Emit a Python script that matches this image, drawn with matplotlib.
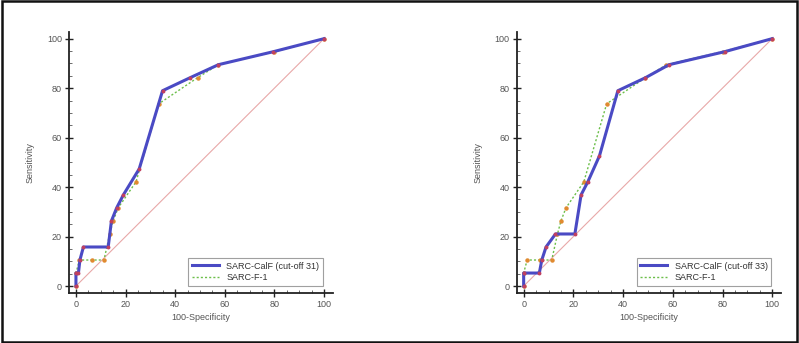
import matplotlib
matplotlib.use("Agg")
import matplotlib.pyplot as plt
from matplotlib.patches import Rectangle
from matplotlib.ticker import MultipleLocator

plt.rcParams['font.family'] = ['Liberation Sans', 'DejaVu Sans']

# SARC-CalF, cut-off 31 (left panel)
calf31_x = [0, 0, 1.0, 1.6, 3.0, 13.0, 14.3, 16.4, 19.1, 25.5, 34.9, 46.0, 57.4, 79.6, 100]
calf31_y = [0, 5.26, 5.26, 10.53, 15.79, 15.79, 26.32, 31.58, 36.84, 47.37, 78.95, 84.21, 89.47, 94.74, 100]

# SARC-CalF, cut-off 33 (right panel)
calf33_x = [0, 0, 6.3, 7.3, 9.0, 12.8, 20.6, 23.1, 25.8, 30.5, 37.9, 49.0, 58.5, 80.9, 100]
calf33_y = [0, 5.26, 5.26, 10.53, 15.79, 21.05, 21.05, 36.84, 42.11, 52.63, 78.95, 84.21, 89.47, 94.74, 100]

# SARC-F-1 (same in both panels)
sarcf_x = [0, 0, 1.4, 6.5, 11.3, 13.6, 15.0, 17.0, 24.2, 33.4, 49.0, 57.4, 80.0, 100]
sarcf_y = [0, 5.26, 10.53, 10.53, 10.53, 21.05, 26.32, 31.58, 42.11, 73.68, 84.21, 89.47, 94.74, 100]

panels = [
    ("SARC-CalF (cut-off 31)", calf31_x, calf31_y, [69 / 799, 0.1458, 0.3304, 0.761]),
    ("SARC-CalF (cut-off 33)", calf33_x, calf33_y, [516.7 / 799, 0.1458, 0.331, 0.761]),
]

grey = "#555555"

fig = plt.figure(figsize=(7.99, 3.43), dpi=100)
fig.patches.append(Rectangle((0.002, 0.004), 0.995, 0.992, transform=fig.transFigure,
                             fill=False, edgecolor="#111111", linewidth=1.8))

for label, cx, cy, pos in panels:
    ax = fig.add_axes(pos)
    ax.plot([0, 100], [0, 100], color="#e8a8a8", linewidth=0.8, zorder=1)
    green, = ax.plot(sarcf_x, sarcf_y, color="#6cbf4a", linestyle=(0, (1.5, 1.5)),
                     linewidth=1.0, zorder=2)
    ax.plot(sarcf_x, sarcf_y, linestyle="none", marker="o", markersize=2.2,
            color="#e08a30", zorder=2)
    blue, = ax.plot(cx, cy, color="#4a4ac4", linewidth=2.2, zorder=3)
    ax.plot(cx, cy, linestyle="none", marker="o", markersize=1.8, color="#c04060", zorder=4)

    ax.set_xlim(-2.8, 103.6)
    ax.set_ylim(-2.8, 102.7)
    for s in ["top", "right"]:
        ax.spines[s].set_visible(False)
    for s in ["left", "bottom"]:
        ax.spines[s].set_color("#222222")
        ax.spines[s].set_linewidth(1.3)
    ax.xaxis.set_major_locator(MultipleLocator(20))
    ax.yaxis.set_major_locator(MultipleLocator(20))
    ax.xaxis.set_minor_locator(MultipleLocator(5))
    ax.yaxis.set_minor_locator(MultipleLocator(5))
    ax.tick_params(which="major", direction="inout", length=6, width=1.0, color="#222222",
                   labelsize=6.5, labelcolor=grey, pad=2)
    ax.tick_params(which="minor", direction="in", length=2.5, width=0.6, color="#555555")

    ax.set_xlabel("100-Specificity", fontsize=6.5, color=grey, labelpad=3)
    ax.set_ylabel("Sensitivity", fontsize=6.5, color=grey, labelpad=9)

    leg = ax.legend([blue, green], [label, "SARC-F-1"], loc="lower right",
                    bbox_to_anchor=(0.962, 0.027), fontsize=6.5, frameon=True,
                    fancybox=False, borderpad=0.4, handlelength=3.0, labelspacing=0.3,
                    borderaxespad=0)
    leg.get_frame().set_edgecolor("#888888")
    leg.get_frame().set_linewidth(0.8)
    for t in leg.get_texts():
        t.set_color("#333333")

fig.savefig("out.png", dpi=100)
